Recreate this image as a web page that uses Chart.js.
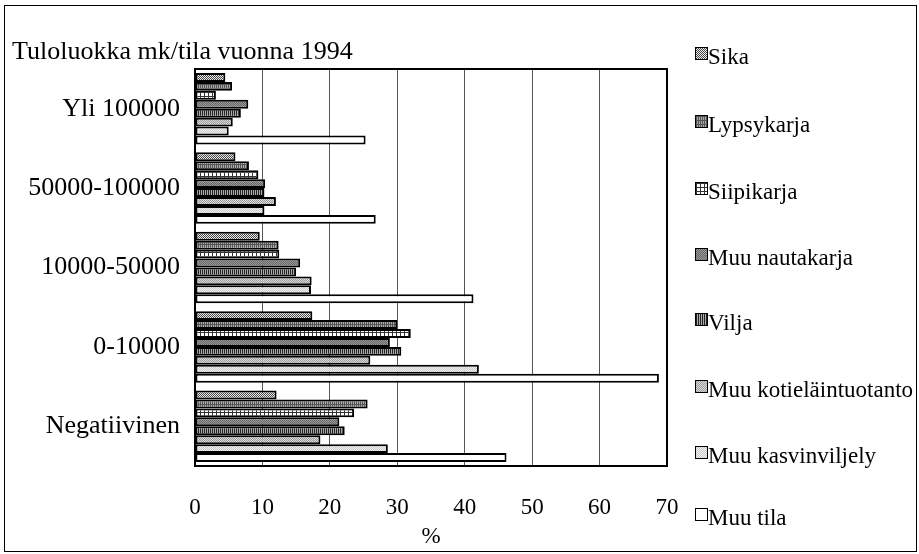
<!DOCTYPE html>
<html>
<head>
<meta charset="utf-8">
<script src="https://cdn.jsdelivr.net/npm/chart.js@4.4.1/dist/chart.umd.min.js"></script>
<style>
  body { margin: 0; background: #fff; }
  #wrap { position: relative; width: 919px; height: 554px; }
  #frame { position: absolute; left: 4px; top: 5px; width: 913px; height: 547px; border: 1.5px solid #000; box-sizing: border-box; pointer-events: none; }
  #otsikko { position: absolute; left: 12px; top: 36px; font: 26px 'Liberation Serif'; line-height: 30px; color: #000; white-space: nowrap; }
  #selite { position: absolute; left: 695px; top: 0; }
  .rivi { position: absolute; left: 0; white-space: nowrap; font: 23px 'Liberation Serif'; color: #000; line-height: 26px; }
  .laatikko { display: inline-block; width: 11px; height: 11px; border: 1px solid #000; vertical-align: top; margin-top: 3px; margin-right: 0; }
</style>
</head>
<body>
<div id="wrap">
  <canvas id="kaavio" width="919" height="554"></canvas>
  <div id="otsikko">Tuloluokka mk/tila vuonna 1994</div>
  <div id="selite"></div>
  <div id="frame"></div>
</div>
<script>
// Tuloluokat (ylhäältä alas) ja sarjat
const kategoriat = ['Yli 100000', '50000-100000', '10000-50000', '0-10000', 'Negatiivinen'];
const sarjat = ['Sika', 'Lypsykarja', 'Siipikarja', 'Muu nautakarja', 'Vilja', 'Muu kotieläintuotanto', 'Muu kasvinviljely', 'Muu tila'];

// Osuudet prosentteina, arvioitu kuvasta
const sika             = [4.5, 6.0, 9.6, 17.4, 12.1];
const lypsykarja       = [5.5, 8.0, 12.4, 30.0, 25.6];
const siipikarja       = [3.1, 9.4, 12.5, 32.0, 23.6];
const muuNautakarja    = [7.9, 10.4, 15.6, 28.9, 21.4];
const vilja            = [6.8, 10.3, 15.0, 30.6, 22.2];
const muuKotielain     = [5.6, 12.0, 17.3, 26.0, 18.6];
const muuKasvinviljely = [5.0, 10.3, 17.2, 42.1, 28.6];
const muuTila          = [25.3, 26.8, 41.3, 68.8, 46.2];

const xMin = 0, xMax = 70, xAskel = 10;

const arvot = [sika, lypsykarja, siipikarja, muuNautakarja, vilja, muuKotielain, muuKasvinviljely, muuTila];

// Pienet rasterikuviot palkkeihin (mustavalkoinen tulostetyyli)
function teeLaatta(koko, vari) {
    const c = document.createElement('canvas');
    c.width = c.height = koko;
    const g = c.getContext('2d');
    for (let y = 0; y < koko; y++) {
        for (let x = 0; x < koko; x++) {
            g.fillStyle = vari(x, y);
            g.fillRect(x, y, 1, 1);
        }
    }
    return c;
}

const laatat = [
    teeLaatta(4, (x, y) => ((x + y) % 2 === 0) ? '#444' : '#eee'),
    teeLaatta(4, (x, y) => (x % 2 === 0 || y === 0) ? '#555' : '#aaa'),
    teeLaatta(4, (x, y) => (x === 0 || y === 0) ? '#333' : '#fff'),
    teeLaatta(2, (x, y) => ((x + y) % 2 === 0) ? '#666' : '#999'),
    teeLaatta(2, (x, y) => (x % 2 === 0) ? '#222' : '#aaa'),
    teeLaatta(2, (x, y) => ((x + y) % 2 === 0) ? '#999' : '#ddd'),
    teeLaatta(2, (x, y) => ((x + y) % 2 === 0) ? '#ccc' : '#f0f0f0'),
    teeLaatta(1, () => '#fff')
];

const ctx = document.getElementById('kaavio').getContext('2d');
const kuviot = laatat.map(l => ctx.createPattern(l, 'repeat'));

// Kuva-alueen kehys ylä- ja oikeaan reunaan
const kehys = {
    id: 'kehys',
    afterDatasetsDraw(chart) {
        const a = chart.chartArea;
        const c = chart.ctx;
        c.save();
        c.strokeStyle = '#000';
        c.lineWidth = 2;
        c.strokeRect(a.left, a.top, a.right - a.left, a.bottom - a.top);
        c.restore();
    }
};

new Chart(ctx, {
    type: 'bar',
    data: {
        labels: kategoriat,
        datasets: sarjat.map((nimi, i) => ({
            label: nimi,
            data: arvot[i],
            backgroundColor: kuviot[i],
            borderColor: '#000',
            borderWidth: 2,
            borderSkipped: false,
            categoryPercentage: 0.9,
            barPercentage: 1.0
        }))
    },
    options: {
        indexAxis: 'y',
        responsive: false,
        animation: false,
        layout: { padding: { left: 0, right: 252, top: 69, bottom: 0 } },
        plugins: {
            legend: { display: false },
            tooltip: { enabled: false }
        },
        scales: {
            y: {
                afterFit: s => { s.width = 195; },
                grid: { display: false, drawTicks: false },
                border: { display: true, color: '#000', width: 2 },
                ticks: {
                    color: '#000',
                    padding: 15,
                    font: { family: "'Liberation Serif'", size: 26 }
                }
            },
            x: {
                min: xMin,
                max: xMax,
                afterFit: s => { s.height = 88; },
                grid: { color: '#555', lineWidth: 1, drawTicks: false },
                border: { display: true, color: '#000', width: 2 },
                ticks: {
                    stepSize: xAskel,
                    color: '#000',
                    padding: 28,
                    font: { family: "'Liberation Serif'", size: 23 }
                },
                title: {
                    display: true,
                    text: '%',
                    color: '#000',
                    padding: { top: 0, bottom: 3 },
                    font: { family: "'Liberation Serif'", size: 23 }
                }
            }
        }
    },
    plugins: [kehys]
});

// Selite oikealle, omat rivivälit kuten alkuperäisessä
const selite = document.getElementById('selite');
const riviKeskit = [57, 125, 192, 258, 323, 390, 456, 518];
sarjat.forEach((nimi, i) => {
    const r = document.createElement('div');
    r.className = 'rivi';
    r.style.top = (riviKeskit[i] - 13) + 'px';
    const b = document.createElement('span');
    b.className = 'laatikko';
    b.style.backgroundImage = 'url(' + laatat[i].toDataURL() + ')';
    r.appendChild(b);
    r.appendChild(document.createTextNode(nimi));
    selite.appendChild(r);
});
</script>
</body>
</html>
